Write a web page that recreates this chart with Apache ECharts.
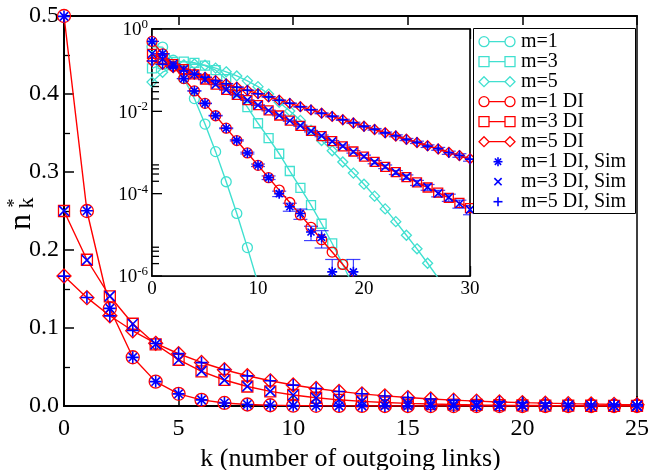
<!DOCTYPE html>
<html><head><meta charset="utf-8">
<script src="https://cdn.jsdelivr.net/npm/echarts@6/dist/echarts.min.js"></script>
<style>html,body{margin:0;padding:0;background:#fff}#c{width:650px;height:470px}</style>
</head><body><div id="c"></div>
<script>
// ---------------- data ----------------
const kValues = [0,1,2,3,4,5,6,7,8,9,10,11,12,13,14,15,16,17,18,19,20,21,22,23,24,25,26,27,28,29,30];

// model without DI (inset only)
const m1Plain = [0.372,0.363,0.174,0.0631,0.0204,0.0049,0.00105,1.95e-4,3.31e-5,4.9e-6,6.6e-7];
const m3Plain = [0.110,0.141,0.158,0.162,0.151,0.129,0.100,0.0603,0.0295,0.0126,0.00513,0.00224,9.33e-4,3.55e-4,1.38e-4,5.25e-5,1.86e-5,6.17e-6,1.91e-6,5.62e-7];
const m5Plain = [0.0513,0.0891,0.1175,0.1349,0.1413,0.1318,0.1122,0.0912,0.0724,0.0550,0.0398,0.0263,0.0166,0.0102,0.00603,0.00347,0.00195,0.00110,5.89e-4,3.16e-4,1.70e-4,8.71e-5,4.27e-5,2.09e-5,9.77e-6,4.57e-6,2.04e-6,8.91e-7];

// DI model
const m1DI = [0.5,0.25,0.125,0.0625,0.03125,0.015625,0.0078125,0.00390625,0.001953,9.766e-4,4.883e-4,2.441e-4,1.221e-4,6.104e-5,3.052e-5,1.526e-5,7.629e-6,3.815e-6,1.907e-6,9.537e-7,4.768e-7,2.384e-7,1.192e-7,5.96e-8,2.98e-8,1.49e-8];
const m3DI = [0.25,0.1875,0.140625,0.105469,0.079102,0.059326,0.044495,0.033371,0.025028,0.018771,0.014078,0.010559,0.007919,0.0059393,0.0044545,0.0033409,0.0025056,0.0018792,0.0014094,0.0010571,7.928e-4,5.946e-4,4.4595e-4,3.3446e-4,2.5085e-4,1.8813e-4,1.411e-4,1.0583e-4,7.937e-5,5.9528e-5,4.4646e-5];
const m5DI = [0.166667,0.138889,0.115741,0.096451,0.080376,0.06698,0.055816,0.046514,0.038761,0.032301,0.026918,0.022431,0.018693,0.015577,0.012981,0.010818,0.0090147,0.0075122,0.0062602,0.0052168,0.0043473,0.0036228,0.003019,0.0025158,0.0020965,0.0017471,0.001456,0.0012133,0.001011,8.425e-4,7.0217e-4];

// simulations
const m1Sim = [0.4995,0.2503,0.1252,0.0624,0.0313,0.0156,0.00785,0.00388,0.00197,9.7e-4,4.9e-4,2.45e-4,1.0e-4,4.8e-5,3.3e-5,1.17e-5,8.7e-6,1.26e-6,0,1.26e-6,0,0,0,0,0,0];
const m3Sim = [0.2502,0.1871,0.1409,0.1052,0.0794,0.0590,0.0447,0.0332,0.0251,0.0187,0.01412,0.01050,0.00797,0.00590,0.00448,0.00330,0.00254,0.00186,0.00143,0.00104,8.0e-4,5.85e-4,4.52e-4,3.28e-4,2.55e-4,1.84e-4,1.44e-4,1.02e-4,8.1e-5,5.7e-5,4.1e-5];
const m5Sim = [0.1665,0.1391,0.1155,0.0967,0.0801,0.0672,0.0556,0.0467,0.0386,0.0324,0.0268,0.0225,0.0186,0.0157,0.0129,0.0109,0.00895,0.00756,0.00622,0.00526,0.00431,0.00366,0.00299,0.00255,0.00207,0.00177,0.00143,0.00123,9.9e-4,8.5e-4,6.9e-4];

// relative error of the simulations
const m1SimErr = [0.002,0.003,0.004,0.006,0.008,0.012,0.017,0.024,0.034,0.05,0.07,0.1,0.15,0.22,0.28,0.38,0.45,1.0,0,1.0,0,0,0,0,0,0];
const m3SimErr = [0.004,0.005,0.006,0.007,0.008,0.01,0.011,0.013,0.015,0.018,0.02,0.023,0.027,0.03,0.035,0.04,0.045,0.05,0.06,0.07,0.08,0.09,0.1,0.11,0.12,0.14,0.16,0.18,0.2,0.22,0.25];
const m5SimErr = [0.004,0.004,0.005,0.005,0.006,0.007,0.008,0.009,0.01,0.011,0.012,0.014,0.016,0.018,0.02,0.022,0.025,0.028,0.031,0.035,0.04,0.045,0.05,0.055,0.06,0.066,0.073,0.08,0.09,0.1,0.11];

// inset ticks (log axis)
const insetMajorTicks = [1e-6,1e-4,1e-2,1];
const insetMinorTicks = [2e-6,3e-6,4e-6,5e-6,2e-4,3e-4,4e-4,5e-4,2e-2,3e-2,4e-2,5e-2];

const seriesNames = ['m=1','m=3','m=5','m=1 DI','m=3 DI','m=5 DI','m=1 DI, Sim','m=3 DI, Sim','m=5 DI, Sim'];
const xAxisName = 'k (number of outgoing links)';

// ---------------- style ----------------
const FONT = 'Liberation Serif';
const CYAN = '#40e0d0', RED = '#ff0000', BLUE = '#0000ff';
const INSET_MIN = 1e-6;
const SYM_STAR = 'path://M0,10L20,10M10,0L10,20M3,3L17,17M17,3L3,17';
const SYM_CROSS = 'path://M0,0L20,20M20,0L0,20';
const SYM_PLUS = 'path://M0,10L20,10M10,0L10,20';

function pairs(arr) { return arr.map((v, i) => [kValues[i], v]); }
function logPairs(arr) { return arr.map((v, i) => [kValues[i], v]).filter(p => p[1] > 0); }
function errTriples(arr, err) { return arr.map((v, i) => [kValues[i], v, err[i]]).filter(p => p[1] > 0); }

function lineSeries(name, data, color, symbol, size, xi, yi, z) {
  return { type: 'line', name, data, xAxisIndex: xi, yAxisIndex: yi, symbol, symbolSize: size,
    showAllSymbol: true, clip: true, z, silent: true,
    lineStyle: { color, width: 1.4 },
    itemStyle: { color: 'rgba(0,0,0,0)', borderColor: color, borderWidth: 1.3 } };
}
function simSeries(name, data, sym, size, xi, yi) {
  return { type: 'scatter', name, data, xAxisIndex: xi, yAxisIndex: yi, symbol: sym, symbolSize: size,
    clip: true, z: 6, silent: true,
    itemStyle: { color: 'rgba(0,0,0,0)', borderColor: BLUE, borderWidth: 1.6, opacity: 1 } };
}
function errSeries(data) {
  return { type: 'custom', xAxisIndex: 2, yAxisIndex: 1, data, z: 5, silent: true, clip: true,
    renderItem: function (params, api) {
      const k = api.value(0), v = api.value(1), e = api.value(2);
      const c = api.coord([k, v]);
      const hi = api.coord([k, v * (1 + e)]);
      let lov = v * (1 - e); let clamped = false;
      if (lov < INSET_MIN) { lov = INSET_MIN; clamped = true; }
      const lo = api.coord([k, lov]);
      const st = { stroke: 'rgba(0,0,255,0.75)', lineWidth: 1.2 };
      const w = 7;
      const ch = [
        { type: 'line', shape: { x1: c[0], y1: hi[1], x2: c[0], y2: lo[1] }, style: st },
        { type: 'line', shape: { x1: c[0] - w, y1: hi[1], x2: c[0] + w, y2: hi[1] }, style: st }
      ];
      if (!clamped) ch.push({ type: 'line', shape: { x1: c[0] - w, y1: lo[1], x2: c[0] + w, y2: lo[1] }, style: st });
      return { type: 'group', children: ch };
    } };
}
function tickSeries(values, len) {
  return { type: 'custom', xAxisIndex: 2, yAxisIndex: 1, z: 7, silent: true,
    data: values.map(v => [0, v]),
    renderItem: function (params, api) {
      const p = api.coord([0, api.value(1)]);
      return { type: 'line', shape: { x1: p[0], y1: p[1], x2: p[0] + len, y2: p[1] }, style: { stroke: '#000', lineWidth: 1.3 } };
    } };
}

// ---------------- legend (graphic) ----------------
const legendDefs = [
  { color: CYAN, sym: 'circle', line: true }, { color: CYAN, sym: 'rect', line: true }, { color: CYAN, sym: 'diamond', line: true },
  { color: RED, sym: 'circle', line: true }, { color: RED, sym: 'rect', line: true }, { color: RED, sym: 'diamond', line: true },
  { color: BLUE, sym: 'star' }, { color: BLUE, sym: 'cross' }, { color: BLUE, sym: 'plus' }
];
function symShape(sym, cx, cy, s, color) {
  const st = { fill: '#fff', stroke: color, lineWidth: 1.3 };
  const h = s / 2;
  if (sym === 'circle') return { type: 'circle', shape: { cx, cy, r: h }, style: st, z: 102 };
  if (sym === 'rect') return { type: 'rect', shape: { x: cx - h, y: cy - h, width: s, height: s }, style: st, z: 102 };
  if (sym === 'diamond') return { type: 'polygon', shape: { points: [[cx, cy - h], [cx + h, cy], [cx, cy + h], [cx - h, cy]] }, style: st, z: 102 };
  const ls = { stroke: color, lineWidth: 1.6 };
  const segs = [];
  if (sym === 'plus' || sym === 'star') { segs.push([cx - h, cy, cx + h, cy], [cx, cy - h, cx, cy + h]); }
  if (sym === 'cross' || sym === 'star') { const d = sym === 'star' ? h * 0.7 : h * 0.8; segs.push([cx - d, cy - d, cx + d, cy + d], [cx + d, cy - d, cx - d, cy + d]); }
  return { type: 'group', children: segs.map(q => ({ type: 'line', shape: { x1: q[0], y1: q[1], x2: q[2], y2: q[3] }, style: ls, z: 102 })) };
}
const legendEls = [{ type: 'rect', shape: { x: 473.5, y: 28.5, width: 162, height: 185 }, style: { fill: '#fff', stroke: '#000', lineWidth: 1 }, z: 100 }];
legendDefs.forEach((d, i) => {
  const y = 41.7 + 20 * i;
  if (d.line) {
    legendEls.push({ type: 'line', shape: { x1: 479, y1: y, x2: 515, y2: y }, style: { stroke: d.color, lineWidth: 1.3 }, z: 101 });
    legendEls.push(symShape(d.sym, 484, y, 10, d.color));
    legendEls.push(symShape(d.sym, 510, y, 10, d.color));
  } else {
    legendEls.push(symShape(d.sym, 498, y, 9, d.color));
  }
  legendEls.push({ type: 'text', x: 521, y: y, z: 103,
    style: { text: seriesNames[i], fontSize: 20, fontFamily: FONT, fill: '#000', align: 'left', verticalAlign: 'middle', textAlign: 'left', textVerticalAlign: 'middle' } });
});
// y axis name n*_k
const yNameEls = [
  { type: 'text', x: 22, y: 222, rotation: Math.PI / 2, z: 50, style: { text: 'n', fontSize: 32, fontFamily: FONT, fill: '#000', align: 'center', verticalAlign: 'middle', textAlign: 'center', textVerticalAlign: 'middle' } },
  { type: 'text', x: 27, y: 203, rotation: Math.PI / 2, z: 50, style: { text: 'k', fontSize: 22, fontFamily: FONT, fill: '#000', align: 'center', verticalAlign: 'middle', textAlign: 'center', textVerticalAlign: 'middle' } },
  { type: 'text', x: 15, y: 203, rotation: Math.PI / 2, z: 50, style: { text: '*', fontSize: 18, fontFamily: FONT, fill: '#000', align: 'center', verticalAlign: 'middle', textAlign: 'center', textVerticalAlign: 'middle' } }
];

// ---------------- chart ----------------
const chart = echarts.init(document.getElementById('c'), null, { renderer: 'canvas' });
const axisLineMain = { show: true, lineStyle: { color: '#000', width: 2 } };
const axisLineInset = { show: true, lineStyle: { color: '#000', width: 1.6 } };

const option = {
  animation: false,
  backgroundColor: '#fff',
  textStyle: { fontFamily: FONT },
  grid: [
    { left: 64, top: 16, right: 13, bottom: 64, show: true, borderColor: '#000', borderWidth: 1.5, containLabel: false, outerBoundsMode: 'none' },
    { left: 152, top: 29, right: 180, bottom: 194, show: true, backgroundColor: '#fff', borderColor: '#000', borderWidth: 1.6, containLabel: false, outerBoundsMode: 'none', z: 3 }
  ],
  xAxis: [
    { gridIndex: 0, type: 'value', position: 'bottom', min: 0, max: 25, interval: 5,
      axisLine: axisLineMain, axisTick: { inside: true, length: 10, lineStyle: { color: '#000', width: 1.5 } },
      axisLabel: { color: '#000', fontSize: 24, fontFamily: FONT, margin: 11, showMinLabel: true, showMaxLabel: true },
      splitLine: { show: false },
      name: xAxisName, nameLocation: 'middle', nameGap: 36, nameTextStyle: { color: '#000', fontSize: 26, fontFamily: FONT } },
    { gridIndex: 0, type: 'value', position: 'top', min: 0, max: 25, interval: 5,
      axisLine: axisLineMain, axisTick: { inside: true, length: 9, lineStyle: { color: '#000', width: 1.5 } },
      axisLabel: { show: false }, splitLine: { show: false } },
    { gridIndex: 1, type: 'value', position: 'bottom', min: 0, max: 30, interval: 5,
      axisLine: axisLineInset, axisTick: { inside: true, length: 10, lineStyle: { color: '#000', width: 1.3 } },
      axisLabel: { color: '#000', fontSize: 19, fontFamily: FONT, margin: 4, showMinLabel: true, showMaxLabel: true,
        formatter: v => (v % 10 === 0 ? String(v) : '') },
      splitLine: { show: false } },
    { gridIndex: 1, type: 'value', position: 'top', min: 0, max: 30, interval: 5,
      axisLine: axisLineInset, axisTick: { inside: true, length: 10, lineStyle: { color: '#000', width: 1.3 } },
      axisLabel: { show: false }, splitLine: { show: false } }
  ],
  yAxis: [
    { gridIndex: 0, type: 'value', min: 0, max: 0.5, interval: 0.1,
      axisLine: axisLineMain, axisTick: { inside: true, length: 10, lineStyle: { color: '#000', width: 1.5 } },
      minorTick: { show: true, splitNumber: 2, length: 6, lineStyle: { color: '#000', width: 1.3 } },
      axisLabel: { color: '#000', fontSize: 24, fontFamily: FONT, margin: 5, formatter: v => v.toFixed(1), showMinLabel: true, showMaxLabel: true },
      splitLine: { show: false }, minorSplitLine: { show: false } },
    { gridIndex: 1, type: 'log', logBase: 10, min: 1e-6, max: 1,
      axisLine: axisLineInset, axisTick: { show: false },
      axisLabel: { color: '#000', margin: 4, showMinLabel: true, showMaxLabel: true,
        formatter: v => { const e = Math.round(Math.log10(v)); return (e % 2 === 0) ? '{b|10}{s|' + e + '}' : ''; },
        rich: { b: { fontSize: 19, fontFamily: FONT, color: '#000', verticalAlign: 'bottom' },
                s: { fontSize: 13, fontFamily: FONT, color: '#000', verticalAlign: 'top', padding: [0, 0, 9, 0] } } },
      splitLine: { show: false } }
  ],
  series: [
    // main plot
    lineSeries(seriesNames[3], pairs(m1DI), RED, 'circle', 13, 0, 0, 3),
    lineSeries(seriesNames[4], pairs(m3DI), RED, 'rect', 11, 0, 0, 3),
    lineSeries(seriesNames[5], pairs(m5DI), RED, 'diamond', 14, 0, 0, 3),
    simSeries(seriesNames[6], pairs(m1Sim), SYM_STAR, 12, 0, 0),
    simSeries(seriesNames[7], pairs(m3Sim), SYM_CROSS, 10, 0, 0),
    simSeries(seriesNames[8], pairs(m5Sim), SYM_PLUS, 12, 0, 0),
    // inset
    lineSeries(seriesNames[0], logPairs(m1Plain), CYAN, 'circle', 10, 2, 1, 4),
    lineSeries(seriesNames[1], logPairs(m3Plain), CYAN, 'rect', 9, 2, 1, 4),
    lineSeries(seriesNames[2], logPairs(m5Plain), CYAN, 'diamond', 10, 2, 1, 4),
    lineSeries(seriesNames[3], logPairs(m1DI), RED, 'circle', 10, 2, 1, 5),
    lineSeries(seriesNames[4], logPairs(m3DI), RED, 'rect', 9, 2, 1, 5),
    lineSeries(seriesNames[5], logPairs(m5DI), RED, 'diamond', 10, 2, 1, 5),
    errSeries(errTriples(m1Sim, m1SimErr)),
    errSeries(errTriples(m3Sim, m3SimErr)),
    errSeries(errTriples(m5Sim, m5SimErr)),
    simSeries(seriesNames[6], logPairs(m1Sim), SYM_STAR, 10, 2, 1),
    simSeries(seriesNames[7], logPairs(m3Sim), SYM_CROSS, 8, 2, 1),
    simSeries(seriesNames[8], logPairs(m5Sim), SYM_PLUS, 10, 2, 1),
    tickSeries(insetMajorTicks, 10),
    tickSeries(insetMinorTicks, 7)
  ],
  graphic: { elements: legendEls.concat(yNameEls) }
};
chart.setOption(option);
</script>
</body></html>
